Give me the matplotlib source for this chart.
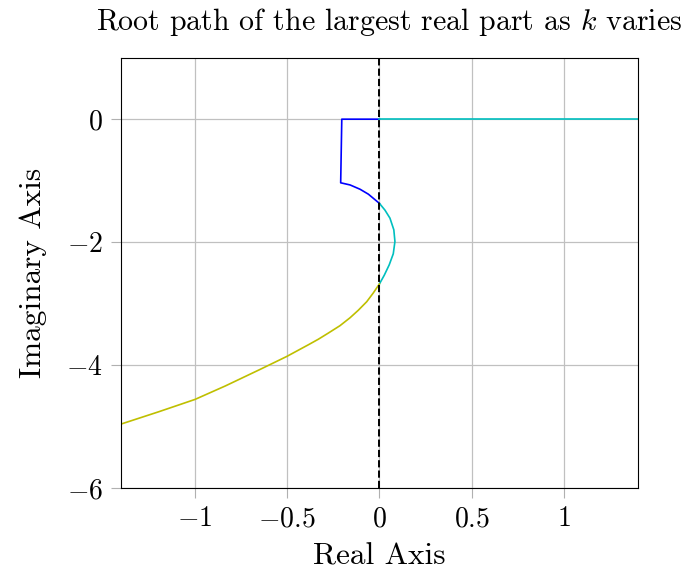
import matplotlib
matplotlib.use('Agg')
import matplotlib.pyplot as plt
from matplotlib.ticker import FuncFormatter

# root path (real, imag)
blue_re = [0.0, -0.204, -0.21, -0.159, -0.105, -0.060, -0.024, 0.0]
blue_im = [0.0, 0.0, -1.035, -1.07, -1.14, -1.22, -1.31, -1.37]

cyan_arc_re = [0.0, 0.030, 0.057, 0.078, 0.084, 0.075, 0.053, 0.026, 0.0]
cyan_arc_im = [-1.37, -1.48, -1.61, -1.80, -1.99, -2.19, -2.37, -2.54, -2.68]

cyan_axis_re = [0.0, 1.4]
cyan_axis_im = [0.0, 0.0]

yellow_re = [0.0, -0.034, -0.069, -0.115, -0.159, -0.214, -0.277, -0.331,
             -0.385, -0.502, -0.646, -0.835, -1.0, -1.196, -1.4]
yellow_im = [-2.68, -2.83, -2.97, -3.11, -3.23, -3.36, -3.48, -3.58,
             -3.67, -3.86, -4.07, -4.34, -4.56, -4.76, -4.96]

xticks = [-1, -0.5, 0, 0.5, 1]
yticks = [0, -2, -4, -6]

plt.rcParams['font.family'] = 'cmr10'
plt.rcParams['mathtext.fontset'] = 'cm'
plt.rcParams['axes.formatter.use_mathtext'] = True

fig = plt.figure(figsize=(6.88, 5.83), dpi=100)
ax = fig.add_axes([0.176, 0.163, 0.751, 0.738])

ax.plot(blue_re, blue_im, color='b', lw=1.2)
ax.plot(cyan_arc_re, cyan_arc_im, color='c', lw=1.2)
ax.plot(cyan_axis_re, cyan_axis_im, color='c', lw=1.2)
ax.plot(yellow_re, yellow_im, color='y', lw=1.2)
ax.axvline(0, color='k', ls='--', lw=1.4, zorder=5)

ax.set_xlim(-1.4, 1.4)
ax.set_ylim(-6, 1)
ax.set_xticks(xticks)
ax.set_yticks(yticks)
fmt = FuncFormatter(lambda v, pos: f'${v:g}$')
ax.xaxis.set_major_formatter(fmt)
ax.yaxis.set_major_formatter(fmt)
ax.tick_params(direction='out', length=7, color='#b0b0b0', labelsize=20, pad=6)
ax.grid(True, color='#c0c0c0', lw=0.9)
ax.set_axisbelow(True)

ax.set_xlabel('Real Axis', fontsize=22.5, labelpad=7)
ax.set_ylabel('Imaginary Axis', fontsize=22.5, labelpad=14)
ax.set_title(r'Root path of the largest real part as $k$ varies', fontsize=21.5,
             pad=20, x=0.518)

fig.savefig('out.png', dpi=100)
